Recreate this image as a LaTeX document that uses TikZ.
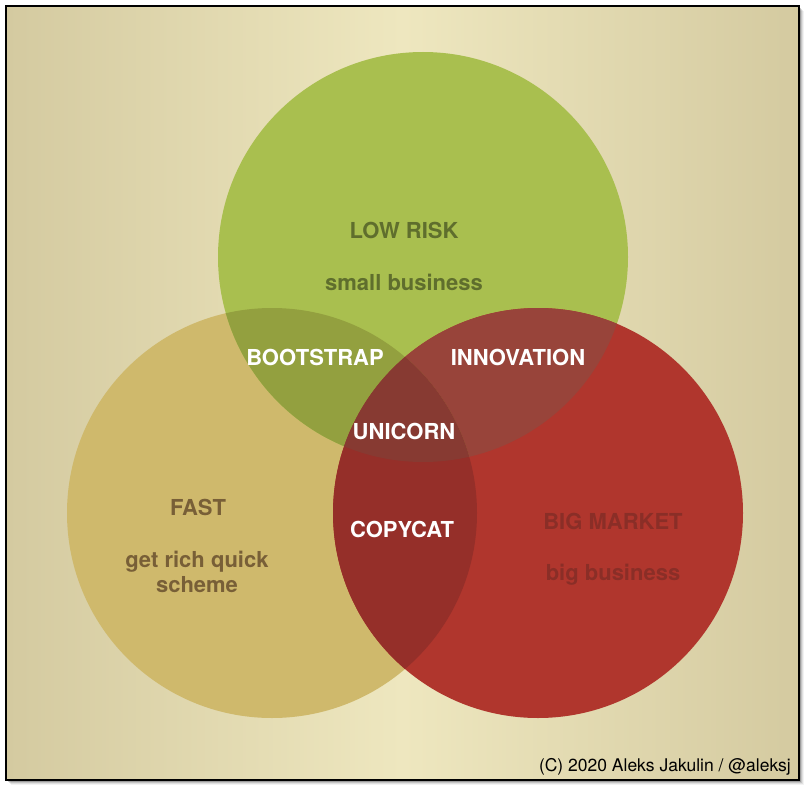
\documentclass[tikz,border=0pt]{standalone}
\usepackage{fontspec}
\setmainfont{TeX Gyre Heros}
\definecolor{bgedge}{HTML}{D4CAA0}
\definecolor{bgmid}{HTML}{EEE7BF}
\definecolor{lowrisk}{HTML}{A9BF4F}
\definecolor{fast}{HTML}{CFB96C}
\definecolor{bigmarket}{HTML}{B0362D}
\definecolor{bootstrap}{HTML}{93A03F}
\definecolor{innovation}{HTML}{98443A}
\definecolor{copycat}{HTML}{952F29}
\definecolor{unicorn}{HTML}{873A32}
\definecolor{lowrisktext}{HTML}{5F6E2D}
\definecolor{fasttext}{HTML}{785F37}
\definecolor{bigmarkettext}{HTML}{8A2E27}
\usetikzlibrary{calc}
\tikzset{
  lbl/.style={inner sep=0pt,anchor=base,align=center,
    font=\fontsize{22}{25}\selectfont\bfseries},
  overlap/.style={lbl,text=white}}

\begin{document}
\begin{tikzpicture}[x=1pt,y=-1pt]
\useasboundingbox (0,0) rectangle (806,792);
\coordinate (frame nw) at (6,6);
\coordinate (frame se) at (799,780);
% drop shadow and background
\foreach \d/\op in {5/0.05,4/0.08,3/0.12,2/0.2}{
\fill[black,opacity=\op] ($(frame nw)+(\d,\d)$) rectangle ($(frame se)+(\d,\d)$);}
\shade[left color=bgedge,right color=bgedge,middle color=bgmid] (frame nw) rectangle (frame se);
% circles
\coordinate (lowrisk c) at (423,257);
\coordinate (fast c) at (272,513);
\coordinate (bigmarket c) at (538,513);
\fill[fast] (fast c) circle (205pt);
\fill[lowrisk] (lowrisk c) circle (205pt);
\fill[bigmarket] (bigmarket c) circle (205pt);
\begin{scope}
\clip (lowrisk c) circle (205pt);
\fill[innovation] (bigmarket c) circle (205pt);
\end{scope}
\begin{scope}
\clip (fast c) circle (205pt);
\fill[bootstrap] (lowrisk c) circle (205pt);
\fill[copycat] (bigmarket c) circle (205pt);
\clip (lowrisk c) circle (205pt);
\fill[unicorn] (bigmarket c) circle (205pt);
\end{scope}
\draw[line width=2.5pt] (frame nw) rectangle (frame se);
% labels
\node[lbl,text=lowrisktext] (lowrisk) at (404,238) {LOW RISK};
\node[lbl,text=lowrisktext] (smallbiz) at (404,290) {small business};
\node[lbl,text=fasttext] (fast) at (198,515) {FAST};
\node[lbl,text=fasttext] (getrich) at (197,592) {get rich quick\\scheme};
\node[lbl,text=bigmarkettext] (bigmarket) at (613,529) {BIG MARKET};
\node[lbl,text=bigmarkettext] (bigbiz) at (613,580) {big business};
\node[overlap] (bootstrap) at (315,365) {BOOTSTRAP};
\node[overlap] (innovation) at (518,365) {INNOVATION};
\node[overlap] (unicorn) at (404,439) {UNICORN};
\node[overlap] (copycat) at (402,537) {COPYCAT};
\node[inner sep=0pt,anchor=base east,font=\fontsize{17.5}{20}\selectfont] (credit) at (791,771) {(C) 2020 Aleks Jakulin / @aleksj};
\end{tikzpicture}
\end{document}
